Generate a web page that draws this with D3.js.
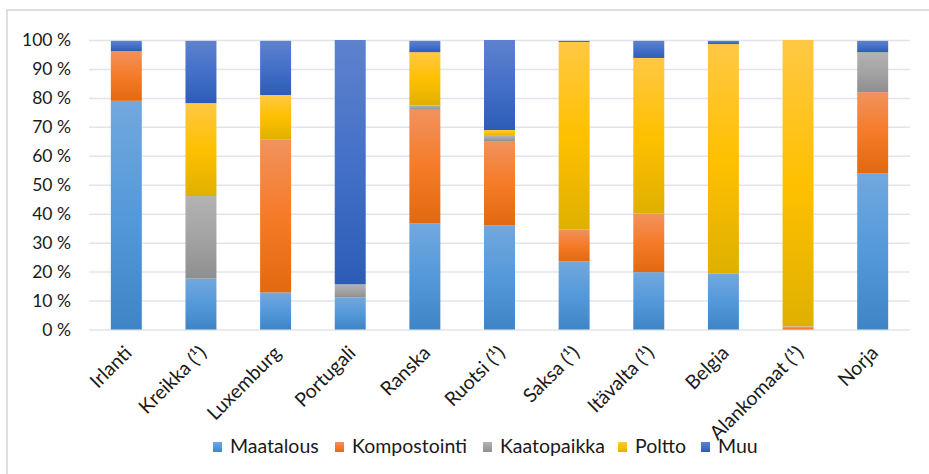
<!DOCTYPE html>
<html>
<head>
<meta charset="utf-8">
<script src="https://cdn.jsdelivr.net/npm/d3@7"></script>
<style>
  body { margin: 0; background: #fff; }
  text { font-family: Lato, "Noto Sans", sans-serif; fill: #1a1a1a; }
</style>
</head>
<body>
<div></div>
<script>
const width = 929;
const height = 474;

// data, percent shares
const countries = ['Irlanti', 'Kreikka (¹)', 'Luxemburg', 'Portugali', 'Ranska', 'Ruotsi (¹)',
  'Saksa (¹)', 'Itävalta (¹)', 'Belgia', 'Alankomaat (¹)', 'Norja'];
const seriesNames = ['Maatalous', 'Kompostointi', 'Kaatopaikka', 'Poltto', 'Muu'];
const maatalous    = [79.0, 17.6, 12.8, 11.1, 36.7, 36.0, 23.5, 19.8, 19.4, 0.0, 54.0];
const kompostointi = [17.2, 0.0, 52.9, 0.0, 39.2, 29.1, 11.1, 20.3, 0.0, 0.6, 28.0];
const kaatopaikka  = [0.0, 28.5, 0.0, 4.5, 1.5, 1.8, 0.0, 0.0, 0.0, 0.5, 13.8];
const poltto       = [0.0, 32.1, 15.3, 0.0, 18.4, 2.0, 64.7, 53.7, 79.2, 98.9, 0.0];
const muu          = [3.5, 21.5, 18.7, 84.4, 3.9, 31.1, 0.4, 5.9, 1.1, 0.0, 3.9];
const yTicks = [0, 10, 20, 30, 40, 50, 60, 70, 80, 90, 100];

// gradient stops per series: top, middle, bottom
const colors = [
  ['#72a8de', '#5499da', '#3f85c6'],
  ['#f1925e', '#f57b28', '#e2690f'],
  ['#b3b3b3', '#a3a3a3', '#8f8f8f'],
  ['#ffc844', '#ffc000', '#dfb000'],
  ['#5e82cd', '#4470c8', '#2c5db6']
];

const rows = countries.map((c, i) => ({
  country: c,
  Maatalous: maatalous[i],
  Kompostointi: kompostointi[i],
  Kaatopaikka: kaatopaikka[i],
  Poltto: poltto[i],
  Muu: muu[i]
}));

const margin = {left: 89, right: 19, top: 40, bottom: 145};

const svg = d3.select('div').append('svg').attr('width', width).attr('height', height);

const defs = svg.append('defs');
seriesNames.forEach((s, i) => {
  const lg = defs.append('linearGradient').attr('id', 'g' + i)
    .attr('x1', 0).attr('y1', 0).attr('x2', 0).attr('y2', 1);
  lg.append('stop').attr('offset', '0%').attr('stop-color', colors[i][0]);
  lg.append('stop').attr('offset', '50%').attr('stop-color', colors[i][1]);
  lg.append('stop').attr('offset', '100%').attr('stop-color', colors[i][2]);
});

// outer frame
svg.append('rect').attr('x', 7).attr('y', 10).attr('width', 1000).attr('height', 1000)
  .attr('fill', 'none').attr('stroke', '#d4d4d4').attr('stroke-width', 1.5);

const x = d3.scaleBand().domain(countries)
  .range([margin.left, width - margin.right]).paddingInner(0.585).paddingOuter(0.2925);
const y = d3.scaleLinear().domain([0, 100]).range([329.5, margin.top]);

// gridlines
const yAxis = d3.axisLeft(y).tickValues(yTicks).tickFormat(d => d + ' %')
  .tickSize(-(width - margin.right - margin.left)).tickPadding(18);
const gy = svg.append('g').attr('transform', 'translate(' + margin.left + ',0)').call(yAxis);
gy.select('.domain').remove();
gy.selectAll('line').attr('stroke', '#e1e4ea').attr('stroke-width', 1.5);
gy.selectAll('text').attr('font-size', 17.5).attr('fill', '#1a1a1a').attr('font-family', 'Lato, sans-serif');

const stack = d3.stack().keys(seriesNames);
const stacked = stack(rows);

const g = svg.append('g');
g.selectAll('g.series').data(stacked).enter().append('g').attr('class', 'series')
  .attr('fill', (d, i) => 'url(#g' + i + ')')
  .selectAll('rect').data(d => d.filter(p => p[1] - p[0] > 0)).enter().append('rect')
  .attr('x', d => x(d.data.country))
  .attr('width', x.bandwidth())
  .attr('y', d => y(d[1]))
  .attr('height', d => y(d[0]) - y(d[1]));

// x labels
const xAxis = d3.axisBottom(x).tickSize(0);
const gx = svg.append('g').attr('transform', 'translate(0,' + y(0) + ')').call(xAxis);
gx.select('.domain').remove();
gx.selectAll('text')
  .attr('font-size', 19.5).attr('fill', '#1a1a1a').attr('font-family', 'Lato, sans-serif')
  .attr('text-anchor', 'end')
  .attr('transform', 'translate(-3,15) rotate(-45)')
  .attr('dy', '0.7em').attr('y', 0).attr('x', 0);

// legend
const legendX = [213, 335, 483, 618, 701];
const legend = svg.append('g');
seriesNames.forEach((s, i) => {
  legend.append('rect').attr('x', legendX[i]).attr('y', 442).attr('width', 9).attr('height', 10)
    .attr('fill', 'url(#g' + i + ')');
  legend.append('text').attr('x', legendX[i] + 17).attr('y', 453)
    .attr('font-size', 19.5).text(s);
});
</script>
</body>
</html>
